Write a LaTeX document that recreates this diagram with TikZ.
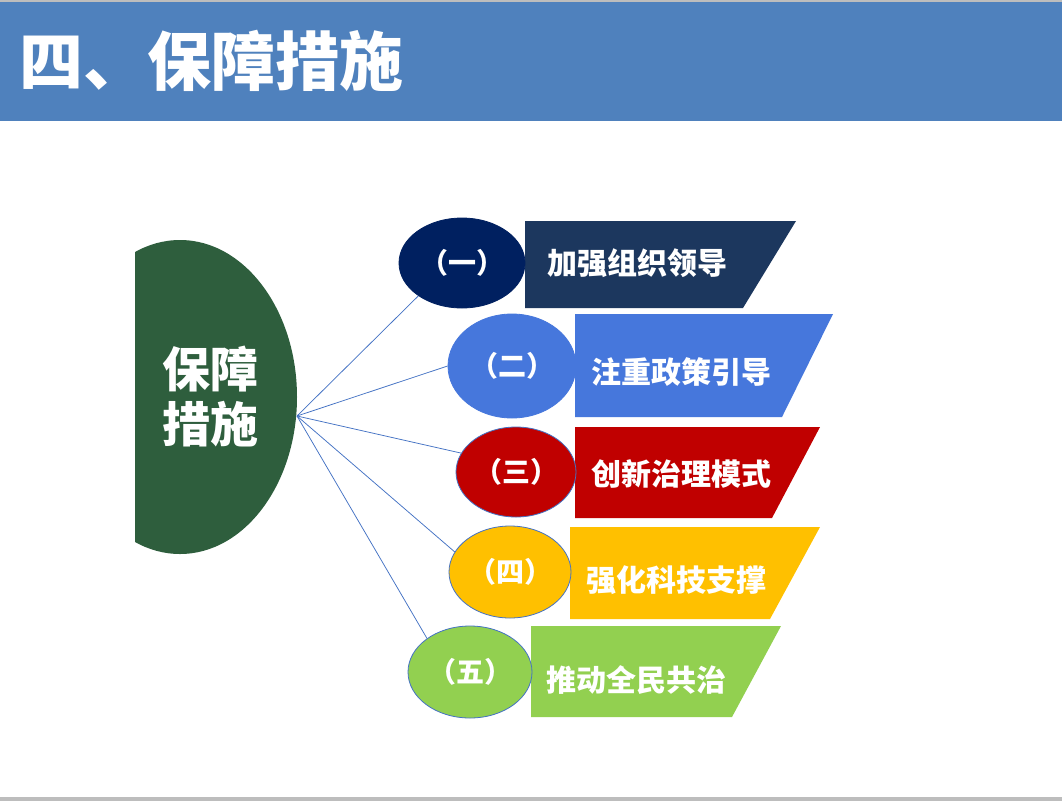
\documentclass[tikz,border=0pt]{standalone}
\usepackage{fontspec}
\newfontfamily\cjk{Noto Sans CJK SC}
\usetikzlibrary{shapes.geometric}
\definecolor{titleblue}{HTML}{4F81BD}
\definecolor{edgegray}{HTML}{BDBDBD}
\definecolor{deepgreen}{HTML}{2E5E3D}
\definecolor{navy}{HTML}{002060}
\definecolor{darkslate}{HTML}{1C375E}
\definecolor{midblue}{HTML}{4677DC}
\definecolor{deepred}{HTML}{C00000}
\definecolor{amber}{HTML}{FFC000}
\definecolor{leafgreen}{HTML}{92D050}
\definecolor{lineblue}{HTML}{4472C4}

\begin{document}
\begin{tikzpicture}[x=1pt,y=-1pt,
    oval/.style={ellipse,inner sep=0pt,draw=lineblue,line width=0.8pt,text=white,
        font=\cjk\bfseries\fontsize{28}{28}\selectfont},
    label/.style={anchor=west,inner sep=0pt,text=white,
        font=\cjk\bfseries\fontsize{30}{30}\selectfont},
    link/.style={lineblue,line width=0.75pt}]
    \useasboundingbox (0,0) rectangle (1062,801);
    \fill[white] (0,0) rectangle (1062,801);
    % title bar
    \fill[edgegray] (0,0) rectangle (1062,2);
    \fill[titleblue] (0,2) rectangle (1062,121);
    \fill[edgegray] (0,797) rectangle (1062,801);
    \node[anchor=west,inner sep=0pt,text=white,font=\cjk\bfseries\fontsize{64}{64}\selectfont]
        (title) at (19,61) {四、保障措施};
    % half oval on the left
    \begin{scope}
        \clip (135,230) rectangle (320,570);
        \fill[deepgreen] (180,397) ellipse [x radius=117, y radius=157];
    \end{scope}
    \node[align=center,inner sep=0pt,text=white,font=\cjk\bfseries\fontsize{48}{55}\selectfont]
        (centre) at (210,396) {保障\\措施};
    \coordinate (hub) at (297,416);
    % bars
    \fill[darkslate] (525,221) -- (796,221) -- (743,308) -- (525,308) -- cycle;
    \fill[midblue] (575,314) -- (833,314) -- (782,417) -- (575,417) -- cycle;
    \fill[deepred] (575,427) -- (820,427) -- (772,518) -- (575,518) -- cycle;
    \fill[amber] (570,527) -- (820,527) -- (770,619) -- (570,619) -- cycle;
    \fill[leafgreen] (531,626) -- (781,626) -- (732,717) -- (531,717) -- cycle;
    \node[label] (lead) at (547,263) {加强组织领导};
    \node[label] (policy) at (591,372) {注重政策引导};
    \node[label] (govern) at (591,474) {创新治理模式};
    \node[label] (tech) at (586,580) {强化科技支撑};
    \node[label] (people) at (546,680) {推动全民共治};
    % ovals
    \node[oval,draw=navy,fill=navy,minimum width=126pt,minimum height=90pt] (one) at (462,263) {（一）};
    \node[oval,draw=midblue,fill=midblue,minimum width=128pt,minimum height=104pt] (two) at (512,366) {（二）};
    \node[oval,fill=deepred,minimum width=120pt,minimum height=90pt] (three) at (516,472) {（三）};
    \node[oval,fill=amber,minimum width=122pt,minimum height=92pt] (four) at (510,572) {（四）};
    \node[oval,fill=leafgreen,minimum width=124pt,minimum height=92pt] (five) at (470,672) {（五）};
    \foreach \n/\a in {one/217,two/180,three/161,four/160,five/142}
        \draw[link] (hub) -- (\n.\a);
\end{tikzpicture}
\end{document}
